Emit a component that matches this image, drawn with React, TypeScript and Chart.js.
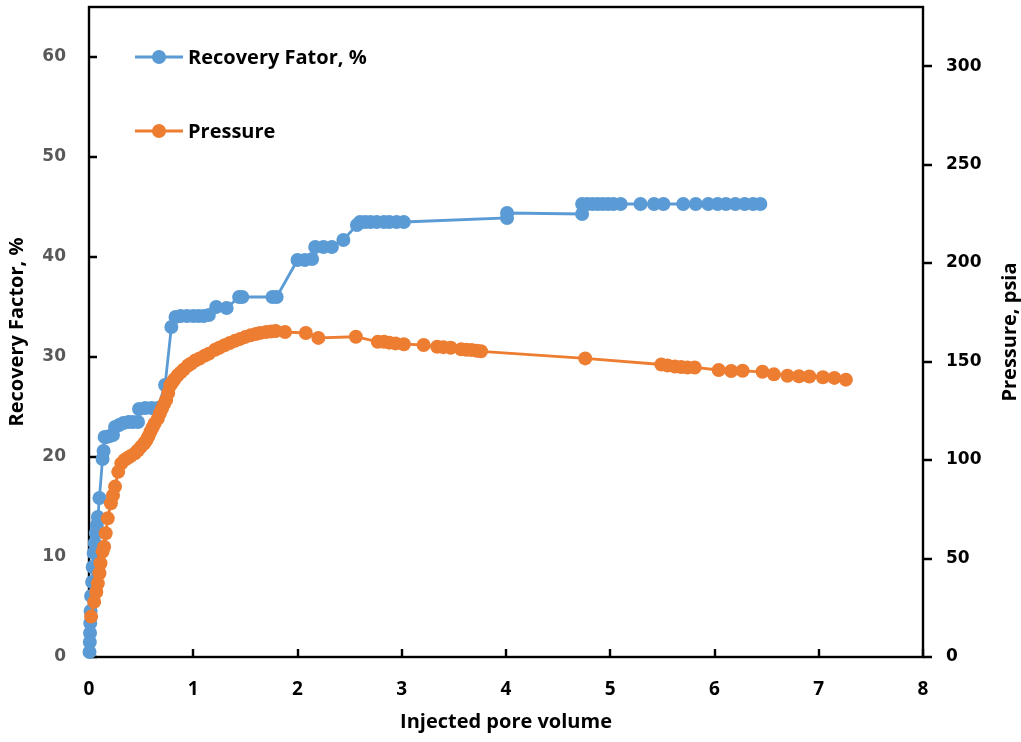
import { useEffect, useRef } from "react";
import { Chart, registerables } from "chart.js";

Chart.register(...registerables);

// Recovery factor (%) against injected pore volume
const rfPoreVolume = [
  0.005, 0.008, 0.01, 0.012, 0.015, 0.02, 0.03, 0.035, 0.045, 0.055, 0.065, 0.075,
  0.085, 0.1, 0.13, 0.14, 0.15, 0.17, 0.2, 0.23, 0.25, 0.29, 0.33, 0.38, 0.42, 0.47,
  0.48, 0.54, 0.6, 0.66, 0.73, 0.79, 0.83, 0.88, 0.94, 1.0, 1.05, 1.1, 1.15, 1.22,
  1.32, 1.44, 1.47, 1.76, 1.8, 2.0, 2.07, 2.14, 2.17, 2.25, 2.33, 2.44, 2.57, 2.6,
  2.65, 2.7, 2.76, 2.83, 2.88, 2.95, 3.02, 4.01, 4.01, 4.73, 4.73, 4.78, 4.83, 4.88,
  4.93, 4.98, 5.03, 5.1, 5.29, 5.42, 5.51, 5.7, 5.82, 5.94, 6.03, 6.11, 6.2, 6.29,
  6.37, 6.44,
];
const recoveryFactor = [
  0.5, 1.5, 2.4, 3.4, 4.6, 6.1, 7.5, 9.0, 10.4, 11.4, 12.4, 13.2,
  14.0, 15.9, 19.8, 20.6, 22.0, 22.0, 22.1, 22.2, 23.0, 23.2, 23.4, 23.5, 23.5, 23.5,
  24.8, 24.9, 24.9, 24.9, 27.2, 33.0, 34.0, 34.1, 34.1, 34.1, 34.1, 34.1, 34.2, 35.0,
  34.9, 36.0, 36.0, 36.0, 36.0, 39.7, 39.7, 39.8, 41.0, 41.0, 41.0, 41.7, 43.2, 43.5,
  43.5, 43.5, 43.5, 43.5, 43.5, 43.5, 43.5, 43.9, 44.4, 44.3, 45.3, 45.3, 45.3, 45.3,
  45.3, 45.3, 45.3, 45.3, 45.3, 45.3, 45.3, 45.3, 45.3, 45.3, 45.3, 45.3, 45.3, 45.3,
  45.3, 45.3,
];

// Pressure (psia) against injected pore volume
const pPoreVolume = [
  0.02, 0.05, 0.07, 0.085, 0.1, 0.11, 0.13, 0.145, 0.16, 0.18, 0.21, 0.23, 0.25,
  0.28, 0.31, 0.34, 0.37, 0.4, 0.44, 0.47, 0.5, 0.53, 0.55, 0.57, 0.59, 0.61, 0.63,
  0.66, 0.68, 0.7, 0.72, 0.74, 0.76, 0.78, 0.8, 0.82, 0.85, 0.88, 0.91, 0.95, 0.98,
  1.02, 1.06, 1.11, 1.15, 1.21, 1.25, 1.3, 1.35, 1.4, 1.45, 1.5, 1.55, 1.6, 1.64,
  1.7, 1.75, 1.79, 1.88, 2.08, 2.2, 2.56, 2.77, 2.83, 2.88, 2.94, 3.02, 3.21, 3.34,
  3.4, 3.47, 3.57, 3.62, 3.67, 3.72, 3.76, 4.76, 5.49, 5.55, 5.62, 5.68, 5.74, 5.81,
  6.04, 6.16, 6.27, 6.46, 6.57, 6.7, 6.81, 6.91, 7.04, 7.15, 7.26,
];
const pressurePsia = [
  20.5, 28, 33, 37.4, 42.5, 47.6, 53.5, 56, 62.8, 70.4, 78, 82, 86.5,
  94, 98.3, 100, 101, 102, 103.4, 105, 106.8, 108.5, 110, 112, 114.4, 116.5, 118.6,
  121, 123.7, 126, 128.5, 130.5, 134, 138, 139.5, 141, 143, 144.5, 146, 148, 149,
  150.5, 151.5, 153, 154, 156, 157, 158.3, 159.4, 160.5, 161.5, 162.5, 163.3, 164, 164.5,
  165, 165.3, 165.5, 165, 164.5, 162, 162.6, 160, 160, 159.6, 159.2, 158.8, 158.4, 157.5,
  157.3, 157, 156.2, 156, 155.8, 155.5, 155.2, 151.6, 148.5, 148, 147.5, 147.2, 147, 147,
  145.7, 145.2, 145.3, 144.8, 143.5, 142.8, 142.5, 142.4, 142, 141.7, 140.8,
];

const xTickValues = [0, 1, 2, 3, 4, 5, 6, 7, 8];
const rfTickValues = [0, 10, 20, 30, 40, 50, 60];
const pTickValues = [0, 50, 100, 150, 200, 250, 300];

const rfLabel = "Recovery Fator, %";
const pLabel = "Pressure";

const BLUE = "#5B9BD5";
const ORANGE = "#ED7D31";
const TITLE_FONT = "'Open Sans', Lato, sans-serif";
const TICK_FONT = "'DejaVu Sans', Verdana, sans-serif";
const TEXT_SIZE = 20;
const MARKER_R = 7;
const LINE_W = 2.8;

const fixTicks = (values: number[]) => (scale: any) => {
  scale.ticks = values.map((v) => ({ value: v }));
};

const fixSize = (size: { width?: number; height?: number }) => (scale: any) => {
  if (size.width !== undefined) scale.width = size.width;
  if (size.height !== undefined) scale.height = size.height;
  scale.paddingTop = 0;
  scale.paddingBottom = 0;
  scale.paddingLeft = 0;
  scale.paddingRight = 0;
};

const framePlugin = {
  id: "frame",
  beforeDatasetsDraw(chart: any) {
    const { ctx, chartArea, scales } = chart;
    const { left, right, top, bottom } = chartArea;
    ctx.save();
    ctx.strokeStyle = "#000";
    ctx.lineWidth = 2.4;
    ctx.strokeRect(left, top, right - left, bottom - top);
    ctx.beginPath();
    scales.y.ticks.forEach((t: any) => {
      const py = Math.round(scales.y.getPixelForValue(t.value));
      ctx.moveTo(left, py);
      ctx.lineTo(left + 8, py);
    });
    scales.x.ticks.forEach((t: any) => {
      const px = Math.round(scales.x.getPixelForValue(t.value));
      ctx.moveTo(px, bottom);
      ctx.lineTo(px, bottom - 8);
    });
    scales.y2.ticks.forEach((t: any) => {
      const py = Math.round(scales.y2.getPixelForValue(t.value));
      ctx.moveTo(right, py);
      ctx.lineTo(right + 9, py);
    });
    ctx.stroke();

    // right axis title, reading bottom to top
    ctx.translate(1010, (top + bottom) / 2);
    ctx.rotate(-Math.PI / 2);
    ctx.font = `bold ${TEXT_SIZE}px ${TITLE_FONT}`;
    ctx.fillStyle = "#000";
    ctx.textAlign = "center";
    ctx.textBaseline = "middle";
    ctx.fillText("Pressure, psia", 0, 0);
    ctx.restore();
  },
  afterDraw(chart: any) {
    const { ctx } = chart;
    const entries = [
      { label: rfLabel, color: BLUE, y: 57 },
      { label: pLabel, color: ORANGE, y: 131 },
    ];
    ctx.save();
    entries.forEach((e) => {
      ctx.strokeStyle = e.color;
      ctx.lineWidth = LINE_W;
      ctx.beginPath();
      ctx.moveTo(135, e.y);
      ctx.lineTo(183, e.y);
      ctx.stroke();
      ctx.fillStyle = e.color;
      ctx.beginPath();
      ctx.arc(159, e.y, MARKER_R, 0, Math.PI * 2);
      ctx.fill();
      ctx.fillStyle = "#000";
      ctx.font = `bold ${TEXT_SIZE}px ${TITLE_FONT}`;
      ctx.textAlign = "left";
      ctx.textBaseline = "middle";
      ctx.fillText(e.label, 188, e.y + 1);
    });
    ctx.restore();
  },
};

export default function App() {
  const canvasRef = useRef<HTMLCanvasElement | null>(null);

  useEffect(() => {
    const canvas = canvasRef.current;
    if (!canvas) return;
    const chart = new Chart(canvas, {
      type: "line",
      data: {
        datasets: [
          {
            label: rfLabel,
            data: rfPoreVolume.map((x, i) => ({ x, y: recoveryFactor[i] })),
            yAxisID: "y",
            borderColor: BLUE,
            backgroundColor: BLUE,
            borderWidth: LINE_W,
            pointRadius: MARKER_R,
            pointBorderWidth: 0,
            pointBackgroundColor: BLUE,
            tension: 0,
            clip: false as any,
            order: 2,
          },
          {
            label: pLabel,
            data: pPoreVolume.map((x, i) => ({ x, y: pressurePsia[i] })),
            yAxisID: "y2",
            borderColor: ORANGE,
            backgroundColor: ORANGE,
            borderWidth: LINE_W,
            pointRadius: MARKER_R,
            pointBorderWidth: 0,
            pointBackgroundColor: ORANGE,
            tension: 0,
            clip: false as any,
            order: 1,
          },
        ],
      },
      options: {
        animation: false,
        responsive: false,
        devicePixelRatio: 1,
        layout: { padding: { top: 7, left: 0, right: 0, bottom: 0 } },
        plugins: {
          legend: { display: false },
          tooltip: { enabled: false },
        },
        scales: {
          x: {
            type: "linear",
            position: "bottom",
            min: 0,
            max: 8,
            grid: { display: false, drawTicks: false },
            border: { display: false },
            afterBuildTicks: fixTicks(xTickValues),
            afterFit: fixSize({ height: 85 }),
            ticks: {
              padding: 21,
              color: "#000",
              font: { family: TITLE_FONT, size: 19, weight: "bold" },
            },
            title: {
              display: true,
              text: "Injected pore volume",
              color: "#000",
              font: { family: TITLE_FONT, size: TEXT_SIZE, weight: "bold" },
              padding: { top: 0, bottom: 8 },
            },
          },
          y: {
            type: "linear",
            position: "left",
            min: 0,
            max: 65,
            grid: { display: false, drawTicks: false },
            border: { display: false },
            afterBuildTicks: fixTicks(rfTickValues),
            afterFit: fixSize({ width: 89 }),
            ticks: {
              padding: 23,
              color: "#595959",
              font: { family: TICK_FONT, size: 17, weight: "bold" },
            },
            title: {
              display: true,
              text: "Recovery Factor, %",
              color: "#000",
              font: { family: TITLE_FONT, size: TEXT_SIZE, weight: "bold" },
              padding: { top: 5, bottom: 0 },
            },
          },
          y2: {
            type: "linear",
            position: "right",
            min: 0,
            max: 330,
            grid: { display: false, drawTicks: false },
            border: { display: false },
            afterBuildTicks: fixTicks(pTickValues),
            afterFit: fixSize({ width: 98 }),
            ticks: {
              padding: 23,
              color: "#000",
              font: { family: TICK_FONT, size: 17, weight: "bold" },
            },
          },
        },
      },
      plugins: [framePlugin],
    });
    return () => chart.destroy();
  }, []);

  return (
    <canvas
      ref={canvasRef}
      width={1021}
      height={742}
      style={{ position: "fixed", left: 0, top: 0, width: 1021, height: 742, background: "#fff" }}
    />
  );
}
